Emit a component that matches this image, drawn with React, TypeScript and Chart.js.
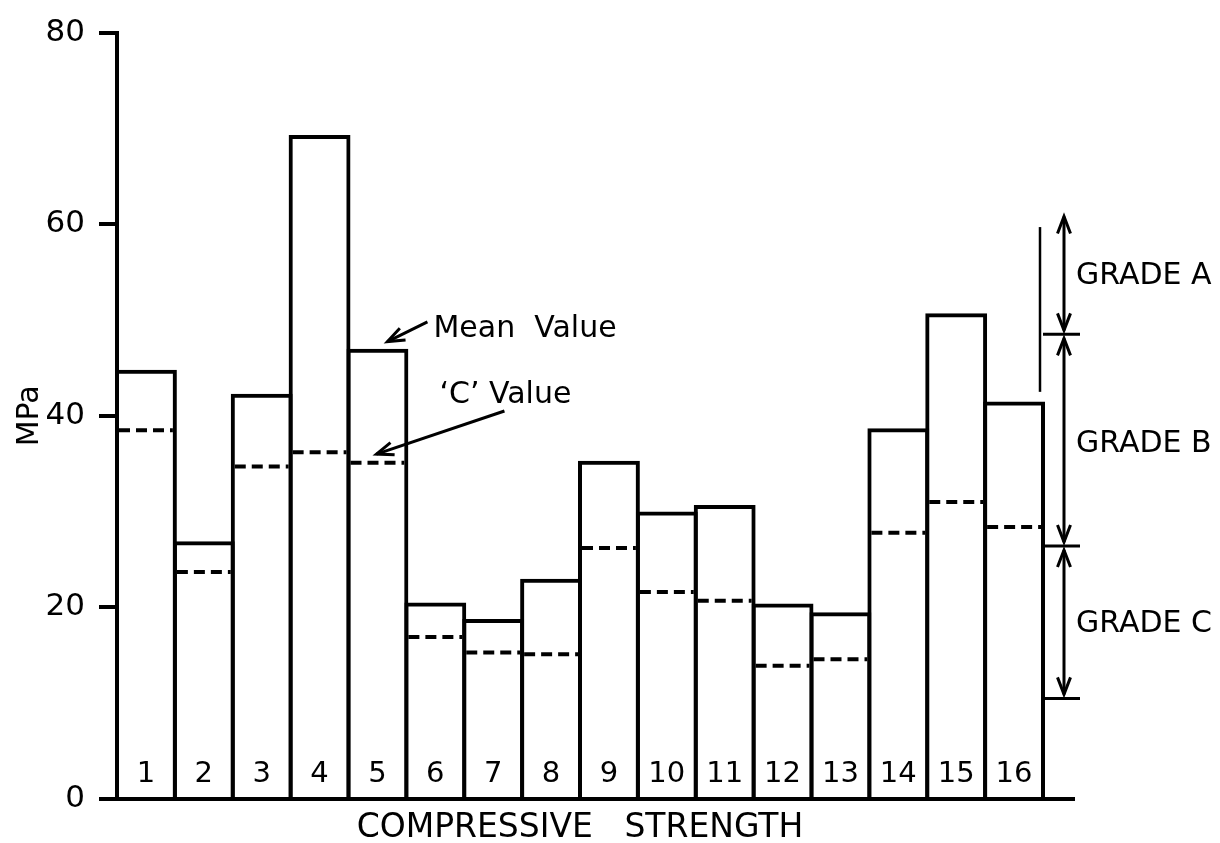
import React, { useEffect, useRef } from "react";
import { Chart, registerables } from "chart.js";

Chart.register(...registerables);

const categories = ["1", "2", "3", "4", "5", "6", "7", "8", "9", "10", "11", "12", "13", "14", "15", "16"];
const meanValues = [44.8, 26.9, 42.3, 69.3, 47.0, 20.5, 18.8, 23.0, 35.3, 30.0, 30.7, 20.4, 19.5, 38.7, 50.7, 41.5];
const cValues = [38.5, 23.7, 34.7, 36.2, 35.1, 16.9, 15.3, 15.1, 26.2, 21.6, 20.7, 13.9, 14.6, 27.8, 31.0, 28.4];
const yTickValues = [0, 20, 40, 60, 80];
const gradeLabels = ["GRADE A", "GRADE B", "GRADE C"];
const gradeBounds = [60.8, 48.5, 26.4, 10.5];
const gradeLabelValues = [54.6, 37.0, 18.2];
const gradeGuide = [59.7, 42.5];
const xTitle = "COMPRESSIVE   STRENGTH";
const yTitle = "MPa";
const meanNote = "Mean  Value";
const cNote = "\u2018C\u2019 Value";

const FONT = "'DejaVu Sans', sans-serif";
const LW = 4;

function arrowHead(ctx: CanvasRenderingContext2D, x1: number, y1: number, x2: number, y2: number, len: number, half: number) {
  const dx = x2 - x1;
  const dy = y2 - y1;
  const d = Math.hypot(dx, dy) || 1;
  const ux = dx / d;
  const uy = dy / d;
  const bx = x2 - ux * len;
  const by = y2 - uy * len;
  ctx.beginPath();
  ctx.moveTo(bx - uy * half, by + ux * half);
  ctx.lineTo(x2, y2);
  ctx.lineTo(bx + uy * half, by - ux * half);
  ctx.stroke();
}

function arrow(ctx: CanvasRenderingContext2D, x1: number, y1: number, x2: number, y2: number, both: boolean) {
  ctx.beginPath();
  ctx.moveTo(x1, y1);
  ctx.lineTo(x2, y2);
  ctx.stroke();
  arrowHead(ctx, x1, y1, x2, y2, 17, 6.5);
  if (both) arrowHead(ctx, x2, y2, x1, y1, 17, 6.5);
}

const annotatePlugin = {
  id: "annotate",
  afterDatasetsDraw(chart: any) {
    const { ctx, chartArea, scales } = chart;
    const xs = scales.x;
    const ys = scales.y;
    const meta = chart.getDatasetMeta(0);
    ctx.save();
    ctx.strokeStyle = "#000";
    ctx.fillStyle = "#000";
    ctx.lineCap = "butt";

    // dashed 'C' value lines
    ctx.lineWidth = LW;
    ctx.setLineDash([11, 6]);
    meta.data.forEach((bar: any, i: number) => {
      const p = bar.getProps(["x", "width"], true);
      const yy = ys.getPixelForValue(cValues[i]);
      ctx.beginPath();
      ctx.moveTo(p.x - p.width / 2 + LW, yy);
      ctx.lineTo(p.x + p.width / 2 - LW, yy);
      ctx.stroke();
    });
    ctx.setLineDash([]);

    // x baseline
    const y0 = ys.getPixelForValue(0);
    ctx.lineWidth = LW;
    ctx.beginPath();
    ctx.moveTo(chartArea.left - 2, y0);
    ctx.lineTo(chartArea.right + 32, y0);
    ctx.stroke();

    // grade boundaries
    const R = chartArea.right;
    ctx.lineWidth = 3;
    for (let i = 1; i < gradeBounds.length; i++) {
      const yy = ys.getPixelForValue(gradeBounds[i]);
      ctx.beginPath();
      ctx.moveTo(R, yy);
      ctx.lineTo(R + 37, yy);
      ctx.stroke();
    }
    // thin guide line
    ctx.lineWidth = 2.5;
    ctx.beginPath();
    ctx.moveTo(R - 3, ys.getPixelForValue(gradeGuide[0]));
    ctx.lineTo(R - 3, ys.getPixelForValue(gradeGuide[1]));
    ctx.stroke();

    // grade arrows
    ctx.lineWidth = 3;
    const ax = R + 21;
    for (let i = 0; i < gradeBounds.length - 1; i++) {
      const yTop = ys.getPixelForValue(gradeBounds[i]) + (i === 0 ? 0 : 4);
      const yBot = ys.getPixelForValue(gradeBounds[i + 1]) - 4;
      arrow(ctx, ax, yTop, ax, yBot, true);
    }

    // grade labels
    ctx.font = `30px ${FONT}`;
    ctx.textAlign = "left";
    ctx.textBaseline = "middle";
    gradeLabels.forEach((t, i) => {
      ctx.fillText(t, R + 33, ys.getPixelForValue(gradeLabelValues[i]));
    });

    // notes near bar 5
    const c4 = xs.getPixelForValue(4);
    ctx.font = `30px ${FONT}`;
    ctx.fillText(meanNote, c4 + 56, ys.getPixelForValue(49.0));
    ctx.fillText(cNote, c4 + 62, ys.getPixelForValue(42.1));
    ctx.lineWidth = 3;
    arrow(ctx, c4 + 50, ys.getPixelForValue(49.8), c4 + 10, ys.getPixelForValue(47.75), false);
    arrow(ctx, c4 + 127, ys.getPixelForValue(40.5), c4 - 1, ys.getPixelForValue(36.0), false);

    ctx.restore();
  },
};

export default function App() {
  const canvasRef = useRef<HTMLCanvasElement | null>(null);

  useEffect(() => {
    const canvas = canvasRef.current;
    if (!canvas) return;
    Chart.defaults.font.family = FONT;
    Chart.defaults.color = "#000";
    const chart = new Chart(canvas, {
      type: "bar",
      data: {
        labels: categories,
        datasets: [
          {
            label: "Mean Value",
            data: meanValues,
            backgroundColor: "rgba(255,255,255,0)",
            borderColor: "#000",
            borderWidth: LW,
            borderSkipped: "start",
            barPercentage: 1.069,
            categoryPercentage: 1,
            clip: false as any,
          },
        ],
      },
      options: {
        responsive: false,
        animation: false,
        devicePixelRatio: 1,
        layout: { padding: { left: 0, right: 177, top: 30, bottom: 0 } },
        plugins: {
          legend: { display: false },
          tooltip: { enabled: false },
        },
        scales: {
          x: {
            type: "category",
            offset: true,
            grid: { display: false },
            border: { display: false },
            ticks: {
              mirror: true,
              padding: 10,
              z: 1,
              color: "#000",
              font: { size: 29, family: FONT, lineHeight: 1 },
              maxRotation: 0,
              autoSkip: false,
            },
            title: {
              display: true,
              text: xTitle,
              color: "#000",
              font: { size: 33, family: FONT, lineHeight: 1 },
              padding: { top: 0, bottom: -2 },
            },
            afterFit: (s: any) => {
              s.height = 44;
            },
          },
          y: {
            min: 0,
            max: 80,
            afterBuildTicks: (s: any) => {
              s.ticks = yTickValues.map((v) => ({ value: v }));
            },
            grid: {
              display: true,
              drawOnChartArea: false,
              drawTicks: true,
              tickLength: 18,
              lineWidth: LW,
              color: "#000",
            },
            border: { display: true, color: "#000", width: LW },
            ticks: {
              padding: 14,
              color: "#000",
              font: { size: 31, family: FONT },
            },
            title: {
              display: true,
              text: yTitle,
              color: "#000",
              font: { size: 30, family: FONT, lineHeight: 1.2 },
              padding: { top: 12, bottom: 0 },
            },
            afterFit: (s: any) => {
              s.width = 117;
            },
          },
        },
      },
      plugins: [annotatePlugin],
    } as any);
    return () => chart.destroy();
  }, []);

  return (
    <div style={{ position: "fixed", left: 0, top: 0, width: 1220, height: 843, background: "#fff" }}>
      <canvas ref={canvasRef} width={1220} height={843} style={{ display: "block", width: 1220, height: 843 }} />
    </div>
  );
}
